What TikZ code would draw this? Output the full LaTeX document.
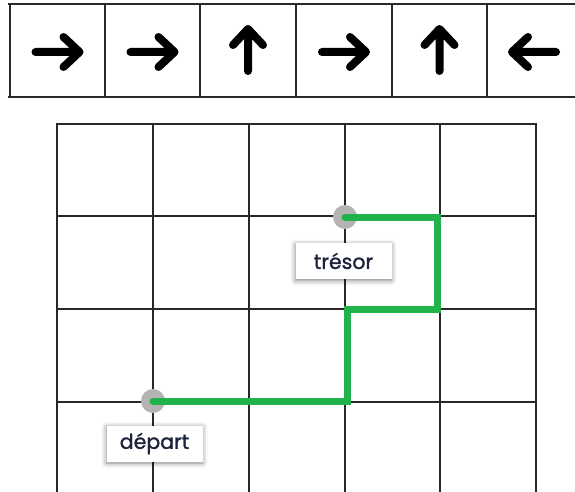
\documentclass[tikz,border=0pt]{standalone}
\usepackage{fontspec}
\setmainfont{Poppins}
\newfontfamily\labelfont{Poppins}[FakeBold=1.3]
\usetikzlibrary{shadows.blur}
\definecolor{pathgreen}{RGB}{34,178,76}
\definecolor{dotgray}{RGB}{180,180,180}
\definecolor{gridline}{RGB}{40,40,40}
\definecolor{labeltext}{RGB}{28,34,60}
\tikzset{
  cellline/.style={draw=gridline, line width=1.6pt},
  dirarrow/.style={draw=black, line width=8pt, line cap=round, line join=round},
  spot/.style={circle, fill=dotgray, minimum size=24pt, inner sep=0pt},
  tag/.style={fill=white, minimum width=96pt, minimum height=36pt, inner sep=0pt,
    font=\labelfont\fontsize{20.5}{24}\selectfont, text=labeltext,
    blur shadow={shadow xshift=0pt, shadow yshift=-1.5pt, shadow blur radius=5pt, shadow opacity=50}},
  route/.style={draw=pathgreen, line width=7pt, line cap=round, line join=miter},
  pics/rarrow/.style={code={\draw[dirarrow] (-22,0) -- (22,0) (6,-15) -- (22,0) -- (6,15);}},
  pics/larrow/.style={code={\draw[dirarrow] (22,0) -- (-22,0) (-6,-15) -- (-22,0) -- (-6,15);}},
  pics/uarrow/.style={code={\draw[dirarrow] (0,21) -- (0,-21) (-15,-5) -- (0,-21) -- (15,-5);}},
}
\begin{document}
\begin{tikzpicture}[x=1pt,y=-1pt]
  \useasboundingbox (0,0) rectangle (575,492);
  % instruction strip
  \draw[cellline] (8,4) -- (575,4) (8,97) -- (575,97);
  \foreach \cx in {10,105,200,296,392,487}
    \draw[cellline] (\cx,4) -- (\cx,97);
  \pic at (57.5,52) {rarrow};
  \pic at (152.5,52) {rarrow};
  \pic at (248,50) {uarrow};
  \pic at (344,52) {rarrow};
  \pic at (439.5,50) {uarrow};
  \pic at (534,52) {larrow};
  % grid
  \foreach \gx in {57,153,249,345,440,536}
    \draw[cellline] (\gx,124) -- (\gx,492);
  \foreach \gy in {124,216,309,402}
    \draw[cellline] (56,\gy) -- (537,\gy);
  % points
  \node[spot] (tresor) at (345,217) {};
  \node[spot] (depart) at (153,401) {};
  \draw[route] (depart.center) -- (347,401) -- (347,309) -- (437,309) -- (437,217) -- (tresor.center);
  % labels
  \node[tag] (tresorlabel) at (343.5,261) {trésor};
  \node[tag] (departlabel) at (154.5,443.5) {départ};
\end{tikzpicture}
\end{document}
